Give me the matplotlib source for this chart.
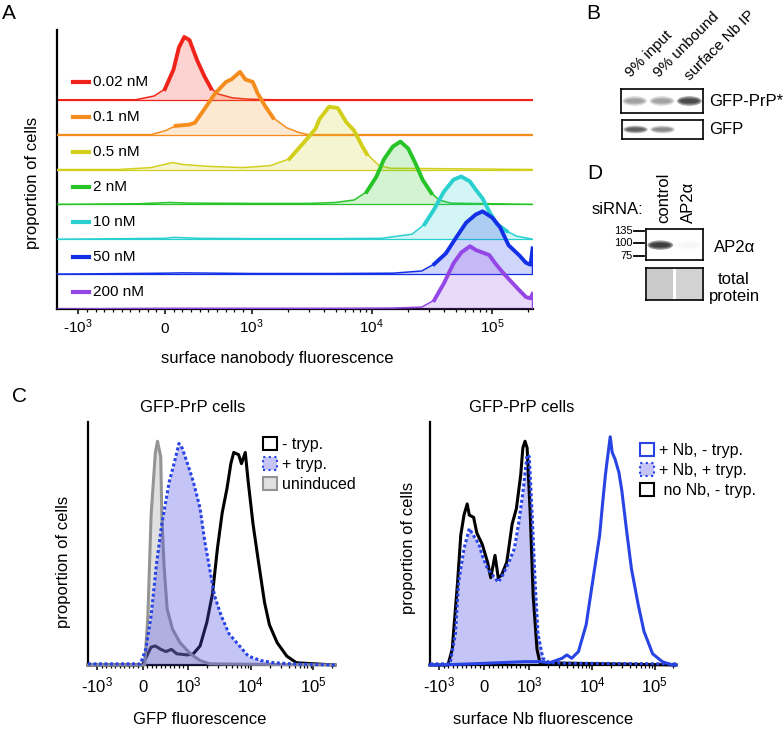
import numpy as np
import matplotlib.pyplot as plt
from matplotlib.patches import Patch, Ellipse, Rectangle
from matplotlib.ticker import NullFormatter

plt.rcParams['font.family'] = ['Liberation Sans', 'DejaVu Sans']
plt.rcParams['mathtext.fontset'] = 'custom'
plt.rcParams['mathtext.rm'] = 'Liberation Sans'
plt.rcParams['mathtext.it'] = 'Liberation Sans:italic'

W, H = 784, 730

# ---------------- data ----------------
# panel A: surface nanobody staining, % of mode
conc_labels = ['0.02 nM', '0.1 nM', '0.5 nM', '2 nM', '10 nM', '50 nM', '200 nM']
conc_colors = ['#f0231a', '#f58c1e', '#d2cf1c', '#26c426', '#2ad0d0', '#1430e6', '#9446e6']

a002_x = [-1500, -334, -124, 0, 99, 161, 223, 284, 371, 457, 532, 618, 779, 952, 1500, 2.2e5]
a002_h = [0, 0, 6, 17, 48, 83, 100, 95, 63, 37, 18, 9, 3, 1, 0, 0]
a01_x = [-1500, -161, 0, 124, 284, 346, 457, 581, 705, 767, 866, 927, 1021, 1120, 1300, 1507, 1954, 2512, 2987, 2.2e5]
a01_h = [0, 0, 6, 14, 16, 19, 41, 66, 84, 88, 100, 88, 84, 66, 45, 27, 11, 3, 0, 0]
a05_x = [-1500, -532, -161, 87, 210, 495, 903, 1425, 2065, 2987, 3404, 3664, 4406, 5208, 6152, 7131, 8277, 9073, 11540, 14410, 2.2e5]
a05_h = [0, 0, 3, 11, 8, 5, 3, 6, 17, 52, 65, 80, 100, 98, 75, 62, 38, 25, 6, 2, 0]
a2_x = [-1500, -300, 50, 300, 1000, 3000, 5000, 7131, 9073, 10920, 12650, 14950, 17330, 20090, 22890, 26540, 31340, 36370, 45400, 2.2e5]
a2_h = [0, 1, 3, 2, 1.5, 1.5, 3, 7, 20, 44, 72, 92, 100, 89, 67, 39, 18, 7, 2, 0]
a10_x = [-1500, 0, 100, 400, 1000, 5000, 12000, 21630, 27540, 33110, 39890, 47990, 55600, 65730, 73450, 83630, 95210, 110400, 132800, 159900, 2.2e5]
a10_h = [0, 1.5, 3, 1.5, 1, 1, 1.5, 8, 24, 48, 76, 95, 100, 92, 79, 65, 44, 24, 13, 5, 0]
a50_x = [-1500, 0, 200, 1000, 5000, 15000, 26060, 33110, 41400, 50710, 61090, 73450, 83630, 100700, 116700, 137800, 169000, 192300, 210000, 218000, 218000]
a50_h = [0, 1.5, 2, 1, 1, 1.5, 5, 16, 33, 59, 82, 95, 100, 90, 75, 46, 30, 18, 15, 41, 0]
a200_x = [-1500, 0, 1000, 5000, 15000, 26060, 33110, 39890, 47990, 55600, 65730, 73450, 83630, 95210, 106400, 121100, 137800, 169000, 192300, 210000, 218000, 218000]
a200_h = [0, 1, 1, 1, 1.5, 3, 14, 41, 73, 90, 100, 94, 90, 86, 73, 60, 48, 30, 19, 17, 24, 0]

# panel B: western blot band intensities (lanes)
b_lanes = ['9% input', '9% unbound', 'surface Nb IP']
b_gfp_prp = [0.35, 0.35, 0.9]
b_gfp = [0.7, 0.45, 0.0]

# panel C left: GFP fluorescence, % of mode
cl_notryp_x = [-1400, 0, 189, 283, 401, 519, 637, 755, 991, 1219, 1563, 2000, 2468, 2951, 3516, 4198, 4831, 5370,
               6412, 7130, 8200, 9120, 10890, 13000, 16600, 19860, 22080, 26350, 37480, 53330, 2.2e5]
cl_notryp_h = [0, 0, 8, 8.5, 7, 6, 7, 5, 4.5, 5, 8.5, 19, 32, 52, 68, 79, 90, 95, 94, 90, 95, 82, 63, 48, 28, 18,
               15, 10, 4, 1, 0]
cl_tryp_x = [-1400, -47, 71, 189, 307, 425, 590, 708, 802, 873, 991, 1219, 1563, 1862, 2223, 2654, 3396, 4508, 6412,
             9120, 14450, 23710, 47970, 2.2e5]
cl_tryp_h = [0.5, 0.5, 7, 22, 45, 63, 82, 91, 99, 97, 90, 82, 70, 55, 43, 31, 22, 14, 9, 4, 2, 1, 0.5, 0]
cl_unind_x = [-1400, 0, 47, 118, 189, 283, 330, 401, 425, 472, 543, 661, 826, 1097, 1563, 2223, 2.2e5]
cl_unind_h = [0, 0, 0, 22, 67, 95, 100, 93, 67, 45, 25, 16, 10, 5, 2, 0.5, 0]

# panel C right: surface Nb fluorescence, % of mode
cr_nb_x = [-1400, -995, -47, 901, 1469, 2094, 3319, 3963, 4732, 6063, 8054, 10320, 13240, 14720, 16370, 17570,
           19530, 20990, 23340, 26920, 29920, 35710, 42660, 54700, 67760, 93120, 132700, 189700, 2.2e5]
cr_nb_h = [0, 0, 0.7, 1.5, 1.5, 1, 3, 4.5, 3, 6, 18, 38, 58, 72, 85, 92, 102, 95, 92, 86, 78, 60, 43, 27, 15, 5,
           1.5, 0, 0]
cr_nbtryp_x = [-1400, -758, -640, -569, -450, -332, -213, -118, -47, 71, 190, 308, 403, 545, 664, 758, 853, 948, 996,
               1104, 1230, 1367, 1633, 2094, 4000, 2.2e5]
cr_nbtryp_h = [0.5, 0.5, 14, 37, 52, 61, 57, 54, 49, 43, 40, 37, 40, 46, 52, 63, 77, 94, 93, 67, 37, 14, 3, 1, 0.8, 0.5]
cr_nonb_x = [-1400, -806, -711, -592, -521, -450, -379, -332, -237, -166, -47, 71, 142, 237, 308, 379, 498, 616,
             711, 806, 853, 901, 948, 1030, 1145, 1318, 1469, 2.2e5]
cr_nonb_h = [0, 0, 7, 37, 58, 67, 72, 67, 66, 59, 54, 46, 39, 49, 39, 40, 46, 63, 70, 85, 97, 100, 97, 67, 31, 7,
             1, 0]

# panel D
d_lanes = ['control', 'AP2α']
d_ap2 = [1.0, 0.03]
d_total = [0.25, 0.22]
d_ladder = ['135', '100', '75']
d_ladder_y = [0.95, 0.55, 0.12]

# flow axis ticks
major_ticks = [-1e3, 0, 1e3, 1e4, 1e5]
major_labels = ['-$\\mathregular{10^3}$', '0', '$\\mathregular{10^3}$', '$\\mathregular{10^4}$', '$\\mathregular{10^5}$']
minor_ticks = [-k * 100 for k in range(1, 10)] + [k * 100 for k in range(1, 10)] + \
              [k * 1000 for k in range(2, 10)] + [k * 10000 for k in range(2, 10)] + [2e5]

fig = plt.figure(figsize=(W / 100, H / 100), dpi=100)


def fxy(x, y):
    return x / W, 1 - y / H


def add_axes(l, t, r, b):
    return fig.add_axes([l / W, 1 - b / H, (r - l) / W, (b - t) / H])


def flow_axis(ax, xmin, fs, pad):
    ax.set_xscale('symlog', linthresh=1000, linscale=0.65)
    ax.set_xlim(xmin, 2.2e5)
    ax.set_xticks(major_ticks, major_labels)
    ax.set_xticks(minor_ticks, minor=True)
    ax.xaxis.set_minor_formatter(NullFormatter())
    ax.set_yticks([])
    ax.spines[['top', 'right']].set_visible(False)
    ax.spines[['left', 'bottom']].set_linewidth(1.6)
    ax.tick_params(axis='x', which='major', length=3.5, width=1.1, labelsize=fs, pad=pad)
    ax.tick_params(axis='x', which='minor', length=2, width=0.9)
    for t in ax.xaxis.get_major_ticks():
        t.label1.set_verticalalignment('baseline')


# ---------------- panel A ----------------
axA = add_axes(57, 30, 533, 309)
flow_axis(axA, -1500, 11, 13.5)
axA.set_ylim(0, 8)
peak_scale = 1.8
a_x = [a002_x, a01_x, a05_x, a2_x, a10_x, a50_x, a200_x]
a_h = [a002_h, a01_h, a05_h, a2_h, a10_h, a50_h, a200_h]
ytr = axA.get_yaxis_transform()
for i, (lab, col, xs, hs) in enumerate(zip(conc_labels, conc_colors, a_x, a_h)):
    base = len(conc_labels) - 1 - i
    xs = np.array(xs, float)
    hs = np.array(hs, float)
    ys = base + hs / 100 * peak_scale
    z = 2 + i
    axA.axhline(base, color=col, lw=0.9, zorder=z)
    axA.fill_between(xs, base, ys, color=col, alpha=0.2, lw=0, zorder=z)
    axA.plot(xs, ys, color=col, lw=1.1, zorder=z + 0.1)
    axA.plot(xs, np.where(hs >= 12, ys, np.nan), color=col, lw=2.8, zorder=z + 0.2)
    axA.plot([0.034, 0.067], [base + 0.5, base + 0.5], color=col, lw=3, transform=ytr, zorder=10)
    axA.text(0.076, base + 0.5, lab, transform=ytr, va='center', ha='left', fontsize=11, zorder=10)
fig.text(*fxy(33, 183), 'proportion of cells', rotation=90, ha='center', va='center', fontsize=12)
fig.text(*fxy(277, 358), 'surface nanobody fluorescence', ha='center', va='center', fontsize=12)

# ---------------- panel C left ----------------
blue = '#2844e4'
fill_blue = (0.3, 0.3, 0.9)
ymax = 108.6

axCL = add_axes(88, 422, 335, 665)
flow_axis(axCL, -1400, 12, 16)
axCL.set_ylim(0, ymax)
axCL.plot(cl_notryp_x, cl_notryp_h, color='black', lw=2.2, zorder=2, clip_on=False)
axCL.fill_between(cl_unind_x, 0, cl_unind_h, color='0.6', alpha=0.3, lw=0, zorder=2.5)
axCL.plot(cl_unind_x, cl_unind_h, color='0.58', lw=2.2, zorder=3, clip_on=False)
axCL.fill_between(cl_tryp_x, 0, cl_tryp_h, color=fill_blue, alpha=0.33, lw=0, zorder=4)
axCL.plot(cl_tryp_x, cl_tryp_h, color=blue, lw=2.2, ls=(0, (1, 0.8)), zorder=5, clip_on=False)
fig.text(*fxy(193, 407), 'GFP-PrP cells', ha='center', va='center', fontsize=12)
fig.text(*fxy(64, 562), 'proportion of cells', rotation=90, ha='center', va='center', fontsize=12)
fig.text(*fxy(200, 720), 'GFP fluorescence', ha='center', va='center', fontsize=12)
handles_l = [Patch(facecolor='white', edgecolor='black', lw=1.5, label='- tryp.'),
             Patch(facecolor=(0.3, 0.3, 0.9, 0.33), edgecolor=blue, lw=1.5, ls=':', label='+ tryp.'),
             Patch(facecolor='0.88', edgecolor='0.58', lw=1.5, label='uninduced')]
fig.legend(handles=handles_l, loc='upper left', bbox_to_anchor=fxy(263, 437), frameon=False, fontsize=11.5,
           handlelength=0.9, handleheight=0.9, handletextpad=0.3, labelspacing=0.3, borderpad=0, borderaxespad=0)

# ---------------- panel C right ----------------
axCR = add_axes(430, 422, 676, 665)
flow_axis(axCR, -1400, 12, 16)
axCR.set_ylim(0, ymax)
axCR.fill_between(cr_nbtryp_x, 0, cr_nbtryp_h, color=fill_blue, alpha=0.33, lw=0, zorder=2)
axCR.plot(cr_nonb_x, cr_nonb_h, color='black', lw=2.2, zorder=3, clip_on=False)
axCR.plot(cr_nbtryp_x, cr_nbtryp_h, color=blue, lw=2.2, ls=(0, (1, 0.8)), zorder=4, clip_on=False)
axCR.plot(cr_nb_x, cr_nb_h, color=blue, lw=2.2, zorder=5, clip_on=False)
fig.text(*fxy(522, 407), 'GFP-PrP cells', ha='center', va='center', fontsize=12)
fig.text(*fxy(409, 548), 'proportion of cells', rotation=90, ha='center', va='center', fontsize=12)
fig.text(*fxy(543, 720), 'surface Nb fluorescence', ha='center', va='center', fontsize=12)
handles_r = [Patch(facecolor='white', edgecolor=blue, lw=1.5, label='+ Nb, - tryp.'),
             Patch(facecolor=(0.3, 0.3, 0.9, 0.33), edgecolor=blue, lw=1.5, ls=':', label='+ Nb, + tryp.'),
             Patch(facecolor='white', edgecolor='black', lw=1.5, label=' no Nb, - tryp.')]
fig.legend(handles=handles_r, loc='upper left', bbox_to_anchor=fxy(640, 443), frameon=False, fontsize=11.5,
           handlelength=0.9, handleheight=0.9, handletextpad=0.3, labelspacing=0.3, borderpad=0, borderaxespad=0)


# ---------------- blots ----------------
def blot_box(l, t, r, b, n):
    ax = add_axes(l, t, r, b)
    ax.set_xlim(0, n)
    ax.set_ylim(0, 1)
    ax.set_xticks([])
    ax.set_yticks([])
    for s in ax.spines.values():
        s.set_linewidth(1.2)
    return ax


def draw_bands(ax, vals, yc, wid, hgt):
    for i, v in enumerate(vals):
        for sw, sh in [(1.0, 1.0), (0.88, 0.7), (0.75, 0.45)]:
            ax.add_patch(Ellipse((i + 0.5, yc), wid * sw, hgt * sh, facecolor='0.1', edgecolor='none',
                                 alpha=min(v * 0.45, 1)))


axB1 = blot_box(621, 89, 703, 113, len(b_lanes))
draw_bands(axB1, b_gfp_prp, 0.5, 0.9, 0.4)
axB2 = blot_box(622, 120, 703, 139, len(b_lanes))
draw_bands(axB2, b_gfp, 0.5, 0.9, 0.4)
for lab, (x, y) in zip(b_lanes, [(631, 78), (659, 78), (690, 81)]):
    fig.text(*fxy(x, y), lab, rotation=45, rotation_mode='anchor', ha='left', va='baseline', fontsize=11)
fig.text(*fxy(709, 101), 'GFP-PrP*', ha='left', va='center', fontsize=12)
fig.text(*fxy(709, 130), 'GFP', ha='left', va='center', fontsize=12)

axD1 = blot_box(646, 229, 703, 260, len(d_lanes))
draw_bands(axD1, d_ap2, 0.48, 0.9, 0.3)
for lab, yy in zip(d_ladder, d_ladder_y):
    axD1.plot([-0.42, -0.07], [yy, yy], color='black', lw=1.3, clip_on=False)
    axD1.text(-0.46, yy, lab, ha='right', va='center', fontsize=8)
axD2 = blot_box(646, 268, 703, 300, len(d_lanes))
for i, v in enumerate(d_total):
    axD2.add_patch(Rectangle((i + 0.05, 0.0), 0.9, 1.0, facecolor='0.2', alpha=v, edgecolor='none'))
fig.text(*fxy(592, 210), 'siRNA:', ha='left', va='center', fontsize=12)
for lab, x in zip(d_lanes, [664, 688]):
    fig.text(*fxy(x, 223), lab, rotation=90, ha='center', va='bottom', fontsize=12)
fig.text(*fxy(714, 247), 'AP2α', ha='left', va='center', fontsize=12)
fig.text(*fxy(734, 288), 'total\nprotein', ha='center', va='center', fontsize=12, linespacing=1.1)

# panel letters
for lab, (x, y) in zip('ABCD', [(2, 4), (586, 4), (12, 387), (587, 164)]):
    fig.text(*fxy(x, y), lab, ha='left', va='top', fontsize=15)

fig.savefig('out.png', dpi=100)
